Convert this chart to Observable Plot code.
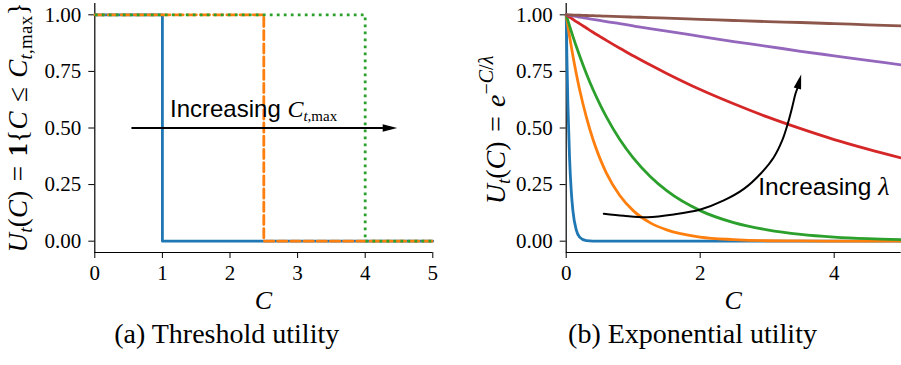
<!DOCTYPE html>
<html><head><meta charset="utf-8">
<script src="https://cdn.jsdelivr.net/npm/d3@7"></script>
<script src="https://cdn.jsdelivr.net/npm/@observablehq/plot@0.6"></script>
<style>
body{margin:0;background:#fff;}
#wrap{position:relative;width:901px;height:365px;overflow:hidden;}
#wrap svg{position:absolute;top:0;overflow:visible;}
text{white-space:pre;}
</style></head><body><div id="wrap"></div>
<script>
// ---------- data ----------
const xTicksA = [0, 1, 2, 3, 4, 5];
const xTicksB = [0, 2, 4];
const yTicks = [0, 0.25, 0.5, 0.75, 1];
const palette = ["#1f77b4", "#ff7f0e", "#2ca02c", "#d62728", "#9467bd", "#8c564b"];

// (a) threshold utility step curves, C_t,max = 1, 2.5, 4
const stepC1 = [0, 1, 1, 5],     stepU1 = [1, 1, 0, 0];
const stepC2 = [0, 2.5, 2.5, 5], stepU2 = [1, 1, 0, 0];
const stepC3 = [0, 4, 4, 5],     stepU3 = [1, 1, 0, 0];

// (b) exponential utility curves, values read on a C grid
const gridC = [0, 0.01, 0.025, 0.05, 0.075, 0.1, 0.15, 0.2, 0.3, 0.4, 0.5, 0.6, 0.8, 1, 1.25, 1.5, 2, 2.5, 3, 3.5, 4, 4.5, 5];
const expBlue   = [1, .819, .607, .368, .223, .135, .050, .018, .002, 0, 0, 0, 0, 0, 0, 0, 0, 0, 0, 0, 0, 0, 0];
const expOrange = [1, .980, .951, .905, .861, .819, .741, .670, .549, .449, .368, .301, .202, .135, .082, .050, .018, .007, .002, .001, 0, 0, 0];
const expGreen  = [1, .990, .975, .951, .928, .905, .861, .819, .741, .670, .607, .549, .449, .368, .287, .223, .135, .082, .050, .030, .018, .011, .007];
const expRed    = [1, .998, .995, .990, .985, .980, .970, .961, .942, .923, .905, .887, .852, .819, .779, .741, .670, .607, .549, .497, .449, .407, .368];
const expPurple = [1, 1, .999, .998, .996, .995, .993, .990, .985, .980, .975, .970, .961, .951, .939, .928, .905, .882, .861, .839, .819, .799, .779];
const expBrown  = [1, 1, 1, .9995, .9993, .999, .9985, .998, .997, .996, .995, .994, .992, .990, .988, .985, .980, .975, .970, .966, .961, .956, .951];

// annotation arrows
const arrowAC = [0.553, 4.30], arrowAU = [0.5, 0.5];
const tipA = {C: 4.473, U: 0.5};
const arrowBC = [0.561, 0.860, 1.209, 1.606, 2.004, 2.352, 2.652, 2.901, 3.099, 3.224, 3.307, 3.373, 3.422, 3.457];
const arrowBU = [0.121, 0.112, 0.106, 0.118, 0.140, 0.180, 0.231, 0.298, 0.371, 0.445, 0.519, 0.592, 0.651, 0.680];
const tipB = {C: 3.507, U: 0.736};

// ---------- helpers ----------
const toRows = (cs, us) => cs.map((c, i) => ({C: c, U: us[i]}));
const headSym = {draw(ctx) { ctx.moveTo(0, 0); ctx.lineTo(-3.8, 14.5); ctx.lineTo(3.8, 14.5); ctx.closePath(); }};
const serif = "Liberation Serif";
const sans = "Liberation Sans";

function rich(parent, segs, attrs) {
  const t = parent.append("text").attr("text-anchor", "start").attr("fill", "black");
  for (const k in attrs) t.attr(k, attrs[k]);
  let shift = 0;
  for (const s of segs) {
    const ts = t.append("tspan").text(s.t)
      .attr("font-family", s.f || serif)
      .attr("font-size", s.size)
      .attr("font-style", s.i ? "italic" : "normal")
      .attr("font-weight", s.b ? "bold" : "normal");
    const target = s.dy || 0;
    if (target !== shift) { ts.attr("dy", target - shift); shift = target; }
  }
  return t;
}

const common = {
  height: 365, marginTop: 3, marginBottom: 113,
  y: {domain: [-0.05, 1.05]},
  style: {fontFamily: serif, fontSize: "21px", color: "black", background: "transparent"}
};
const axisStyle = {tickSize: 6, label: null, strokeWidth: 1, fontFamily: serif, fontSize: 21};

// ---------- (a) ----------
const left = Plot.plot({
  ...common,
  width: 450, marginLeft: 94.3, marginRight: 17.7,
  x: {domain: [0, 5]},
  marks: [
    Plot.axisX({...axisStyle, ticks: xTicksA, tickFormat: d => String(d), tickPadding: 7}),
    Plot.axisY({...axisStyle, ticks: yTicks, tickFormat: d => d.toFixed(2), tickPadding: 7.5}),
    Plot.ruleX([0], {strokeWidth: 1.2}),
    Plot.ruleY([-0.05], {strokeWidth: 1.2}),
    Plot.line(toRows(stepC1, stepU1), {x: "C", y: "U", stroke: palette[0], strokeWidth: 2.8}),
    Plot.line(toRows(stepC2, stepU2), {x: "C", y: "U", stroke: palette[1], strokeWidth: 2.8, strokeDasharray: "9.2,4"}),
    Plot.line(toRows(stepC3, stepU3), {x: "C", y: "U", stroke: palette[2], strokeWidth: 2.8, strokeDasharray: "2.8,4.2", strokeLinecap: "butt"}),
    Plot.line(toRows(arrowAC, arrowAU), {x: "C", y: "U", stroke: "black", strokeWidth: 2}),
    Plot.dot([tipA], {x: "C", y: "U", symbol: headSym, r: 5, fill: "black", stroke: "none", rotate: 90})
  ]
});
left.style.left = "0px";

// ---------- (b) ----------
const expSeries = [expBlue, expOrange, expGreen, expRed, expPurple, expBrown];
const right = Plot.plot({
  ...common,
  width: 451, marginLeft: 115.7, marginRight: 0.3,
  x: {domain: [0, 5]},
  marks: [
    Plot.axisX({...axisStyle, ticks: xTicksB, tickFormat: d => String(d), tickPadding: 7}),
    Plot.axisY({...axisStyle, ticks: yTicks, tickFormat: d => d.toFixed(2), tickPadding: 7.5}),
    Plot.ruleX([0], {strokeWidth: 1.2}),
    Plot.ruleY([-0.05], {strokeWidth: 1.2}),
    ...expSeries.map((s, i) => Plot.line(toRows(gridC, s), {x: "C", y: "U", stroke: palette[i], strokeWidth: 2.8, curve: "monotone-x"})),
    Plot.line(toRows(arrowBC, arrowBU), {x: "C", y: "U", stroke: "black", strokeWidth: 2, curve: "catmull-rom"}),
    Plot.dot([tipB], {x: "C", y: "U", symbol: headSym, r: 5, fill: "black", stroke: "none", rotate: 15})
  ]
});
right.style.left = "450px";

const wrap = document.getElementById("wrap");
wrap.append(left, right);

// ---------- text ----------
const L = d3.select(left), R = d3.select(right);
const lx = left.scale("x"), ly = left.scale("y"), rx = right.scale("x"), ry = right.scale("y");
const F = 27, S = 19;
const sp = "\u2004";

// annotations
rich(L, [
  {t: "Increasing ", f: sans, size: 24},
  {t: "C", i: 1, size: 24},
  {t: "t", i: 1, size: 15, dy: 4},
  {t: ",max", size: 15, dy: 4}
], {x: lx.apply(1.12), y: ly.apply(0.548)});

rich(R, [
  {t: "Increasing ", f: sans, size: 24.5},
  {t: "λ", i: 1, size: 26}
], {x: rx.apply(2.875), y: ry.apply(0.202)});

// x labels
rich(L, [{t: "C", i: 1, size: 26}], {x: 263.3, y: 309.3, "text-anchor": "middle"});
rich(R, [{t: "C", i: 1, size: 26}], {x: 733.2 - 450, y: 309.3, "text-anchor": "middle"});

// y labels
rich(L, [
  {t: "U", i: 1, size: F}, {t: "t", i: 1, size: S, dy: 5},
  {t: "(", size: F}, {t: "C", i: 1, size: F}, {t: ")" + sp + "=" + sp, size: F},
  {t: "1", b: 1, size: F}, {t: "{", size: F},
  {t: "C", i: 1, size: F}, {t: sp + "≤" + sp, size: F},
  {t: "C", i: 1, size: F}, {t: "t", i: 1, size: S, dy: 5}, {t: ",max", size: S, dy: 5},
  {t: "}", size: F}
], {"text-anchor": "middle", transform: "translate(27,127.5) rotate(-90)", textLength: 250, lengthAdjust: "spacing"});

rich(R, [
  {t: "U", i: 1, size: 28}, {t: "t", i: 1, size: S, dy: 5},
  {t: "(", size: 28}, {t: "C", i: 1, size: 28}, {t: ")" + sp + "=" + sp, size: 28},
  {t: "e", i: 1, size: 28},
  {t: "−", size: 20, dy: -12}, {t: "C", i: 1, size: 20, dy: -12}, {t: "/", size: 20, dy: -12}, {t: "λ", i: 1, size: 20, dy: -12}
], {"text-anchor": "middle", transform: "translate(55,130) rotate(-90)"});

// captions
rich(L, [{t: "(a) Threshold utility", size: 28}], {x: 226.7, y: 343.3, "text-anchor": "middle"});
rich(R, [{t: "(b) Exponential utility", size: 28}], {x: 692.5 - 450, y: 343.3, "text-anchor": "middle"});
</script></body></html>
